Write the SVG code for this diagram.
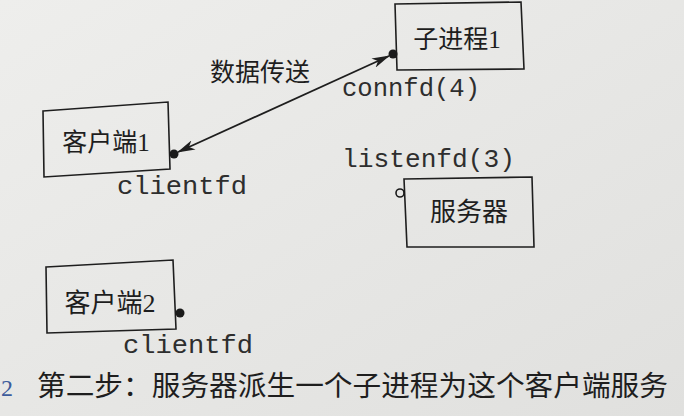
<svg xmlns="http://www.w3.org/2000/svg" width="684" height="416" viewBox="0 0 684 416">
  <defs>
    <linearGradient id="paper" x1="0" y1="0" x2="1" y2="1">
      <stop offset="0" stop-color="#eeeeec"/>
      <stop offset="1" stop-color="#e0e0de"/>
    </linearGradient>
    <marker id="head" viewBox="0 0 18 10" refX="17" refY="5" markerWidth="18" markerHeight="10" markerUnits="userSpaceOnUse" orient="auto-start-reverse">
      <path d="M0,0 L18,5 L0,10 L5,5 Z" fill="#1e1e1e"/>
    </marker>
    <style>
      .box { fill: none; stroke: #1e1e1e; stroke-width: 1.6; stroke-linejoin: miter; }
      .cjk { font-family: "Liberation Serif", "Noto Sans CJK SC", serif; fill: #1e1e1e; text-anchor: middle; }
      .mono { font-family: "Liberation Mono", monospace; fill: #2e2e2e; font-size: 25px; }
      .dot { fill: #1a1a1a; }
      .ring { fill: none; stroke: #1a1a1a; stroke-width: 1.6; }
      .edge { stroke: #1e1e1e; stroke-width: 1.8; fill: none; }
    </style>
  </defs>
  <rect width="684" height="416" fill="url(#paper)"/>

  <g id="child1">
    <polygon class="box" points="395,4 521,2 524,69 397,70"/>
    <text class="cjk" x="457" y="48" font-size="25">子进程1</text>
    <circle class="dot" cx="393" cy="54" r="4.5"/>
    <text class="mono" x="342" y="96" textLength="138" lengthAdjust="spacingAndGlyphs">connfd(4)</text>
  </g>

  <g id="client1">
    <polygon class="box" points="43,111 168,102 170,169 44,177"/>
    <text class="cjk" x="106" y="151" font-size="25">客户端1</text>
    <circle class="dot" cx="174" cy="154" r="4.5"/>
    <text class="mono" x="117" y="194" textLength="130" lengthAdjust="spacingAndGlyphs">clientfd</text>
  </g>

  <g id="server">
    <polygon class="box" points="404,179 532,177 534,247 407,247"/>
    <text class="cjk" x="469" y="221" font-size="26">服务器</text>
    <circle class="ring" cx="400" cy="193" r="4"/>
    <text class="mono" x="342" y="167" textLength="173" lengthAdjust="spacingAndGlyphs">listenfd(3)</text>
  </g>

  <g id="client2">
    <polygon class="box" points="46,267 173,260 176,329 47,333"/>
    <text class="cjk" x="110" y="312" font-size="26">客户端2</text>
    <circle class="dot" cx="180" cy="313" r="4.5"/>
    <text class="mono" x="123" y="353" textLength="130" lengthAdjust="spacingAndGlyphs">clientfd</text>
  </g>

  <g id="connectors">
    <line class="edge" x1="178" y1="152" x2="389" y2="56" marker-start="url(#head)" marker-end="url(#head)"/>
    <text class="cjk" x="260" y="81" font-size="25">数据传送</text>
  </g>

  <g id="caption">
    <text x="1" y="396" font-family="Liberation Serif, serif" font-size="24" fill="#3d5c9c">2</text>
    <text x="37" y="396" font-family="Liberation Serif, 'Noto Sans CJK SC', serif" font-size="28" fill="#1e1e1e" textLength="631" lengthAdjust="spacingAndGlyphs">第二步：服务器派生一个子进程为这个客户端服务</text>
  </g>
</svg>
